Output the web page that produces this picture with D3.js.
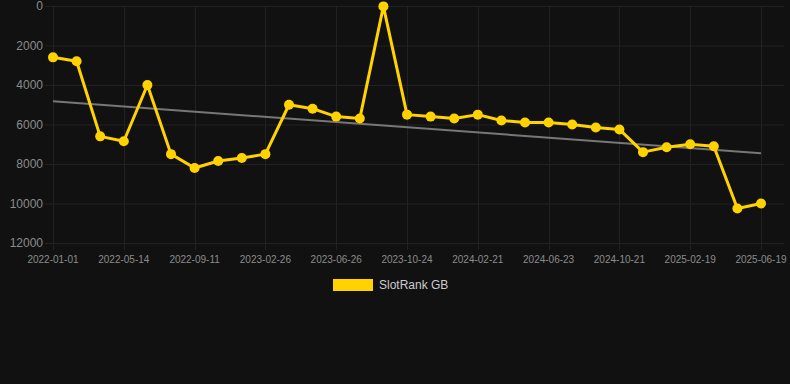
<!DOCTYPE html>
<html>
<head>
<meta charset="utf-8">
<script src="https://cdn.jsdelivr.net/npm/d3@7"></script>
<style>
  html, body { margin: 0; padding: 0; background: #111111; }
  svg { display: block; font-family: "Liberation Sans", Arial, Helvetica, sans-serif; }
</style>
</head>
<body>
<svg id="chart" width="790" height="384"></svg>
<script>
(function () {
  const W = 790, H = 384;
  const margin = { top: 6, right: 29, bottom: 141, left: 53 };

  // ticks shown on the x axis (every third point)
  const tickLabels = [
    "2022-01-01", "2022-05-14", "2022-09-11", "2023-02-26", "2023-06-26",
    "2023-10-24", "2024-02-21", "2024-06-23", "2024-10-21", "2025-02-19", "2025-06-19"
  ];
  const tickEvery = 3;

  // SlotRank GB, one point per period
  const rankValues = [
    2600, 2800, 6600, 6850, 4000, 7500, 8200, 7850, 7700, 7500,
    5000, 5200, 5600, 5700, 20, 5500, 5600, 5700, 5500, 5800,
    5900, 5900, 6000, 6150, 6250, 7400, 7150, 7000, 7100, 10250, 10000
  ];

  const yTicks = [0, 2000, 4000, 6000, 8000, 10000, 12000];
  const seriesName = "SlotRank GB";

  const svg = d3.select("#chart");
  const innerBottom = H - margin.bottom;
  const innerRight = W - margin.right;

  const x = d3.scaleLinear()
    .domain([0, rankValues.length - 1])
    .range([margin.left, innerRight]);

  const y = d3.scaleLinear()
    .domain([0, 12000])
    .range([margin.top, innerBottom]);

  // horizontal grid
  svg.append("g")
    .selectAll("line")
    .data(yTicks)
    .join("line")
    .attr("x1", margin.left - 8)
    .attr("x2", W - 6)
    .attr("y1", (d) => y(d) + 0.5)
    .attr("y2", (d) => y(d) + 0.5)
    .attr("stroke", "#222222")
    .attr("stroke-width", 1);

  // vertical grid at labelled ticks
  const tickIdx = tickLabels.map((_, i) => i * tickEvery);
  svg.append("g")
    .selectAll("line")
    .data(tickIdx)
    .join("line")
    .attr("x1", (d) => Math.round(x(d)) + 0.5)
    .attr("x2", (d) => Math.round(x(d)) + 0.5)
    .attr("y1", margin.top)
    .attr("y2", innerBottom + 7)
    .attr("stroke", "#222222")
    .attr("stroke-width", 1);

  // y axis labels
  svg.append("g")
    .selectAll("text")
    .data(yTicks)
    .join("text")
    .attr("x", margin.left - 10)
    .attr("y", (d) => y(d))
    .attr("dy", "0.35em")
    .attr("text-anchor", "end")
    .attr("font-size", 12)
    .attr("fill", "#8c8c8c")
    .text((d) => d);

  // x axis labels
  svg.append("g")
    .selectAll("text")
    .data(tickLabels)
    .join("text")
    .attr("x", (d, i) => x(i * tickEvery))
    .attr("y", innerBottom + 20)
    .attr("text-anchor", "middle")
    .attr("font-size", 10)
    .attr("fill", "#8c8c8c")
    .text((d) => d);

  // trend line (least squares over the series)
  const n = rankValues.length;
  const mx = d3.mean(rankValues, (d, i) => i);
  const my = d3.mean(rankValues);
  const slope = d3.sum(rankValues, (d, i) => (i - mx) * (d - my)) /
                d3.sum(rankValues, (d, i) => (i - mx) * (i - mx));
  const icpt = my - slope * mx;

  svg.append("line")
    .attr("x1", x(0)).attr("y1", y(icpt))
    .attr("x2", x(n - 1)).attr("y2", y(icpt + slope * (n - 1)))
    .attr("stroke", "#777777")
    .attr("stroke-width", 2);

  // series
  const line = d3.line()
    .x((d, i) => x(i))
    .y((d) => y(d));

  svg.append("path")
    .datum(rankValues)
    .attr("d", line)
    .attr("fill", "none")
    .attr("stroke", "#FFD200")
    .attr("stroke-width", 3)
    .attr("stroke-linejoin", "round");

  svg.append("g")
    .selectAll("circle")
    .data(rankValues)
    .join("circle")
    .attr("cx", (d, i) => x(i))
    .attr("cy", (d) => y(d))
    .attr("r", 5)
    .attr("fill", "#FFD200");

  // legend
  const legend = svg.append("g").attr("transform", "translate(333,279)");
  legend.append("rect")
    .attr("width", 40).attr("height", 12)
    .attr("fill", "#FFD200");
  legend.append("text")
    .attr("x", 46).attr("y", 6)
    .attr("dy", "0.35em")
    .attr("font-size", 12)
    .attr("fill", "#cccccc")
    .text(seriesName);
})();
</script>
</body>
</html>
